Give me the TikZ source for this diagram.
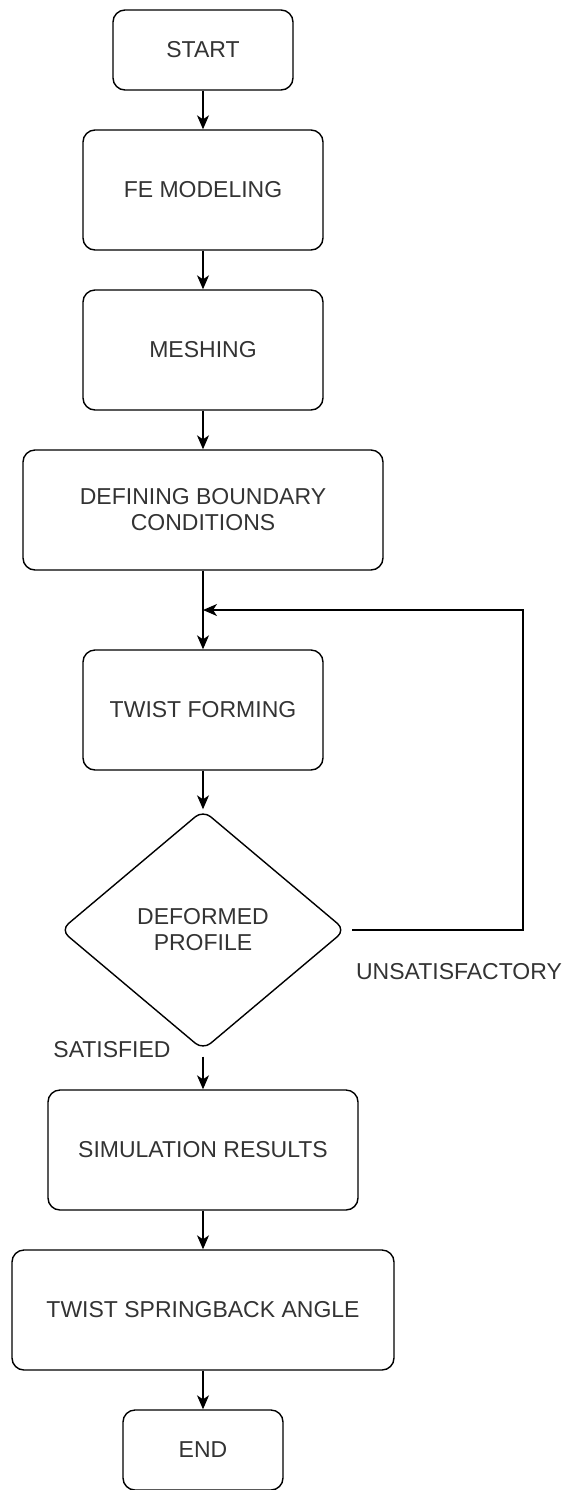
\documentclass[tikz,border=0pt]{standalone}
\usepackage{fontspec}
\setmainfont{Liberation Sans}
\usetikzlibrary{arrows.meta,shapes.geometric}
\begin{document}
\begin{tikzpicture}[x=0.5pt, y=-0.5pt,
        every node/.style={font=\fontsize{11.5}{13}\selectfont, text=black!80},
        box/.style={draw, line width=0.7pt, rounded corners=6pt, align=center, inner sep=0pt},
        decide/.style={draw, line width=0.7pt, diamond, rounded corners=5pt, align=center, inner sep=0pt, aspect=1.19},
        flow/.style={-{Stealth[length=7pt, width=6pt, inset=2pt]}, line width=0.7pt}]
    \useasboundingbox (0,0) rectangle (574,1490);
        \node[box, minimum width=90pt, minimum height=40pt] (start) at (203,50) {START};
        \node[box, minimum width=120pt, minimum height=60pt] (fem) at (203,190) {FE MODELING};
        \node[box, minimum width=120pt, minimum height=60pt] (mesh) at (203,350) {MESHING};
        \node[box, minimum width=180pt, minimum height=60pt] (dbc) at (203,510) {DEFINING BOUNDARY\\CONDITIONS};
        \node[box, minimum width=120pt, minimum height=60pt] (tf) at (203,710) {TWIST FORMING};
        \node[decide, minimum width=142.5pt, minimum height=120pt] (dp) at (203,930) {DEFORMED\\PROFILE};
        \node[box, minimum width=155pt, minimum height=60pt] (sim) at (203,1150) {SIMULATION RESULTS};
        \node[box, minimum width=191pt, minimum height=60pt] (tsa) at (203,1310) {TWIST SPRINGBACK ANGLE};
        \node[box, minimum width=80pt, minimum height=40pt] (end) at (203,1450) {END};
        \node (unsat) at (459,972) {UNSATISFACTORY};
        \node (sat) at (112,1050) {SATISFIED};
        \coordinate (back) at (523,610);
        \coordinate (join) at (203,610);
        % main line
        \draw [flow] (start) -- (fem);
        \draw [flow] (fem) -- (mesh);
        \draw [flow] (mesh) -- (dbc);
        \draw [flow] (dbc) -- (tf);
        \draw [flow] (tf) -- (dp);
        \draw [flow, shorten <=3pt] (dp) -- (sim);
        \draw [flow] (sim) -- (tsa);
        \draw [flow] (tsa) -- (end);
        % loop back
        \draw [flow, shorten <=3pt] (dp.east) -| (back) -- (join);
    \end{tikzpicture}
\end{document}
